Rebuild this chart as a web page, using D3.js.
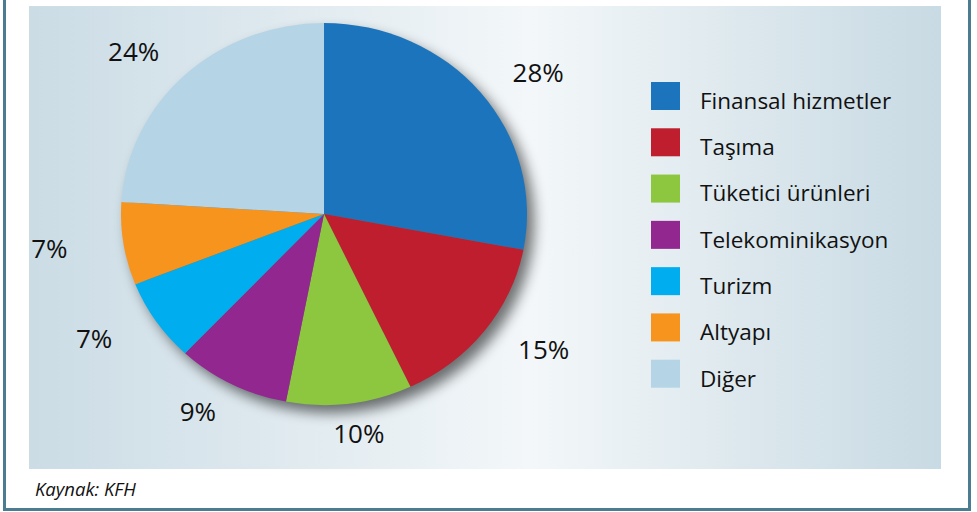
<!DOCTYPE html>
<html>
<head>
<meta charset="utf-8">
<script src="https://cdn.jsdelivr.net/npm/d3@7"></script>
<style>
  html, body { margin: 0; padding: 0; background: #fff; }
  svg { display: block; font-family: 'Open Sans', 'Noto Sans', sans-serif; }
</style>
</head>
<body>
<div id="chart"></div>
<script>
const width = 977;
const height = 512;

// data
const categories = ['Finansal hizmetler', 'Taşıma', 'Tüketici ürünleri', 'Telekominikasyon', 'Turizm', 'Altyapı', 'Diğer'];
const shares = [28, 15, 10, 9, 7, 7, 24];
const colors = ['#1c75bc', '#be1e2d', '#8dc63f', '#92278f', '#00aeef', '#f7941d', '#b5d5e6'];
const source = 'Kaynak: KFH';

const data = categories.map((name, i) => ({ name, value: shares[i], color: colors[i] }));

const cx = 324;
const cy = 214;
const rx = 203;
const ry = 191;
const squash = ry / rx;
// labels sit on a wider, flatter ring than the pie itself
const labelRx = 278;
const labelRy = 222;

const svg = d3.select('#chart')
  .append('svg')
  .attr('width', width)
  .attr('height', height);

const defs = svg.append('defs');

const bg = defs.append('linearGradient')
  .attr('id', 'panelGrad')
  .attr('x1', '0%').attr('x2', '100%')
  .attr('y1', '0%').attr('y2', '0%');
bg.append('stop').attr('offset', '0%').attr('stop-color', '#cbdce5');
bg.append('stop').attr('offset', '55%').attr('stop-color', '#f3f7f9');
bg.append('stop').attr('offset', '100%').attr('stop-color', '#c8dae3');

const shadow = defs.append('filter')
  .attr('id', 'pieShadow')
  .attr('x', '-20%').attr('y', '-20%')
  .attr('width', '140%').attr('height', '140%');
shadow.append('feGaussianBlur')
  .attr('in', 'SourceAlpha')
  .attr('stdDeviation', 7);
shadow.append('feOffset')
  .attr('dx', 7)
  .attr('dy', 8)
  .attr('result', 'off');
shadow.append('feComponentTransfer')
  .append('feFuncA')
  .attr('type', 'linear')
  .attr('slope', 0.55);

// outer frame
svg.append('rect')
  .attr('x', 4.5)
  .attr('y', -10)
  .attr('width', 965)
  .attr('height', 519.5)
  .attr('fill', 'none')
  .attr('stroke', '#4b7d92')
  .attr('stroke-width', 3);

// panel
svg.append('rect')
  .attr('x', 29)
  .attr('y', 6)
  .attr('width', 912)
  .attr('height', 463)
  .attr('fill', 'url(#panelGrad)');

// pie
const pie = d3.pie()
  .sort(null)
  .value(d => d.value);

const arcs = pie(data);

const arc = d3.arc()
  .innerRadius(0)
  .outerRadius(rx);

const pieGroup = svg.append('g')
  .attr('transform', `translate(${cx}, ${cy}) scale(1, ${squash})`);

pieGroup.append('circle')
  .attr('r', rx)
  .attr('fill', '#000')
  .attr('filter', 'url(#pieShadow)');

pieGroup.selectAll('path.slice')
  .data(arcs)
  .join('path')
  .attr('class', 'slice')
  .attr('d', arc)
  .attr('fill', d => d.data.color);

// percentage labels
const midAngle = d => (d.startAngle + d.endAngle) / 2;

svg.append('g')
  .attr('transform', `translate(${cx}, ${cy})`)
  .selectAll('text')
  .data(arcs)
  .join('text')
  .attr('x', d => labelRx * Math.sin(midAngle(d)))
  .attr('y', d => -labelRy * Math.cos(midAngle(d)))
  .attr('dy', '0.35em')
  .attr('text-anchor', 'middle')
  .attr('font-size', 26)
  .attr('fill', '#111')
  .text(d => d.data.value + '%');

// legend
const legendY = d3.scaleBand()
  .domain(categories)
  .range([82, 406])
  .paddingInner(0);

const legend = svg.append('g')
  .selectAll('g')
  .data(data)
  .join('g')
  .attr('transform', d => `translate(651, ${legendY(d.name)})`);

legend.append('rect')
  .attr('width', 29)
  .attr('height', 28)
  .attr('fill', d => d.color);

legend.append('text')
  .attr('x', 49)
  .attr('y', 19)
  .attr('dy', '0.35em')
  .attr('font-size', 22.5)
  .attr('fill', '#111')
  .text(d => d.name);

svg.append('text')
  .attr('x', 35)
  .attr('y', 496)
  .attr('font-size', 18.5)
  .attr('font-style', 'italic')
  .attr('fill', '#111')
  .text(source);
</script>
</body>
</html>
